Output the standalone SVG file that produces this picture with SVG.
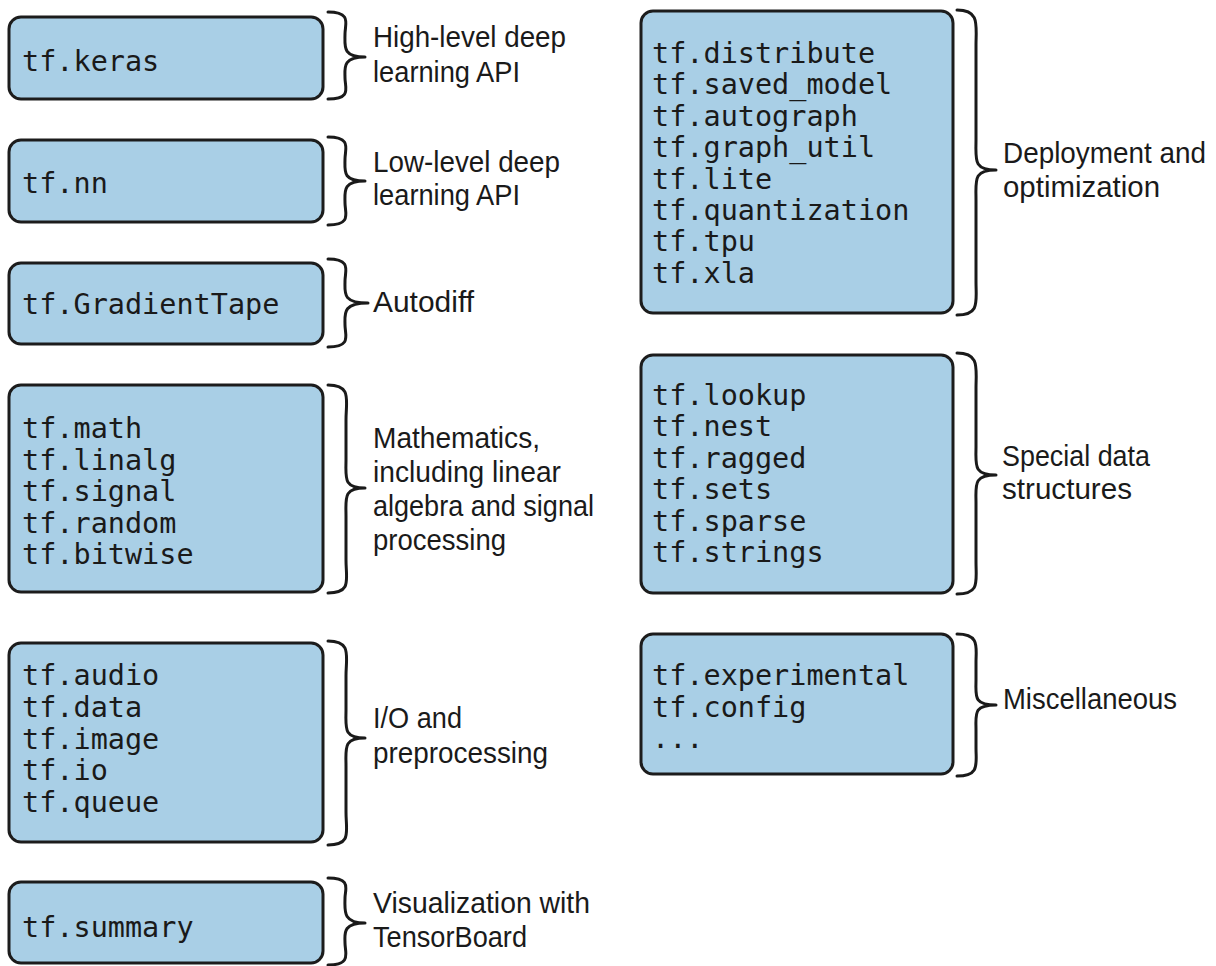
<svg xmlns="http://www.w3.org/2000/svg" width="1216" height="966" viewBox="0 0 1216 966">
<style>
.box{fill:#a9cfe6;stroke:#1c1c1c;stroke-width:3}
.code{font-family:"DejaVu Sans Mono","Liberation Mono",monospace;font-size:28.5px;fill:#1a1a1a}
.lbl{font-family:"Liberation Sans",Arial,sans-serif;font-size:29px;fill:#1a1a1a}
.brace{fill:none;stroke:#1a1a1a;stroke-width:3;stroke-linecap:round;stroke-linejoin:round}
</style>
<rect width="1216" height="966" fill="#ffffff"/>
<g id="keras">
<rect class="box" x="9" y="17" width="314" height="82" rx="12"/>
<text class="code" x="22" y="71">tf.keras</text>
<text class="lbl" x="373" y="47" textLength="193" lengthAdjust="spacingAndGlyphs">High-level deep</text>
<text class="lbl" x="373" y="82" textLength="147" lengthAdjust="spacingAndGlyphs">learning API</text>
</g>
<g id="nn">
<rect class="box" x="9" y="140" width="314" height="82" rx="12"/>
<text class="code" x="22" y="193">tf.nn</text>
<text class="lbl" x="373" y="172" textLength="187" lengthAdjust="spacingAndGlyphs">Low-level deep</text>
<text class="lbl" x="373" y="205" textLength="147" lengthAdjust="spacingAndGlyphs">learning API</text>
</g>
<g id="gradienttape">
<rect class="box" x="9" y="263" width="314" height="81" rx="12"/>
<text class="code" x="22" y="314">tf.GradientTape</text>
<text class="lbl" x="373" y="312" textLength="101" lengthAdjust="spacingAndGlyphs">Autodiff</text>
</g>
<g id="math">
<rect class="box" x="9" y="385" width="314" height="207" rx="12"/>
<text class="code" x="22" y="438">tf.math</text>
<text class="code" x="22" y="469.5">tf.linalg</text>
<text class="code" x="22" y="501">tf.signal</text>
<text class="code" x="22" y="532.5">tf.random</text>
<text class="code" x="22" y="564">tf.bitwise</text>
<text class="lbl" x="373" y="448" textLength="167" lengthAdjust="spacingAndGlyphs">Mathematics,</text>
<text class="lbl" x="373" y="482" textLength="188" lengthAdjust="spacingAndGlyphs">including linear</text>
<text class="lbl" x="373" y="516" textLength="221" lengthAdjust="spacingAndGlyphs">algebra and signal</text>
<text class="lbl" x="373" y="550" textLength="133" lengthAdjust="spacingAndGlyphs">processing</text>
</g>
<g id="io">
<rect class="box" x="9" y="643" width="314" height="199" rx="12"/>
<text class="code" x="22" y="685">tf.audio</text>
<text class="code" x="22" y="716.75">tf.data</text>
<text class="code" x="22" y="748.5">tf.image</text>
<text class="code" x="22" y="780.25">tf.io</text>
<text class="code" x="22" y="812">tf.queue</text>
<text class="lbl" x="373" y="728" textLength="89" lengthAdjust="spacingAndGlyphs">I/O and</text>
<text class="lbl" x="373" y="763" textLength="175" lengthAdjust="spacingAndGlyphs">preprocessing</text>
</g>
<g id="summary">
<rect class="box" x="9" y="882" width="314" height="81" rx="12"/>
<text class="code" x="22" y="937">tf.summary</text>
<text class="lbl" x="373" y="913" textLength="217" lengthAdjust="spacingAndGlyphs">Visualization with</text>
<text class="lbl" x="373" y="947" textLength="154" lengthAdjust="spacingAndGlyphs">TensorBoard</text>
</g>
<g id="deployment">
<rect class="box" x="641" y="11" width="312" height="302" rx="12"/>
<text class="code" x="652" y="63">tf.distribute</text>
<text class="code" x="652" y="94.4">tf.saved_model</text>
<text class="code" x="652" y="125.8">tf.autograph</text>
<text class="code" x="652" y="157.2">tf.graph_util</text>
<text class="code" x="652" y="188.6">tf.lite</text>
<text class="code" x="652" y="220">tf.quantization</text>
<text class="code" x="652" y="251.4">tf.tpu</text>
<text class="code" x="652" y="283">tf.xla</text>
<text class="lbl" x="1003" y="163" textLength="203" lengthAdjust="spacingAndGlyphs">Deployment and</text>
<text class="lbl" x="1003" y="197" textLength="157" lengthAdjust="spacingAndGlyphs">optimization</text>
</g>
<g id="special">
<rect class="box" x="641" y="355" width="312" height="238" rx="12"/>
<text class="code" x="652" y="405">tf.lookup</text>
<text class="code" x="652" y="436.4">tf.nest</text>
<text class="code" x="652" y="467.8">tf.ragged</text>
<text class="code" x="652" y="499.2">tf.sets</text>
<text class="code" x="652" y="530.6">tf.sparse</text>
<text class="code" x="652" y="562">tf.strings</text>
<text class="lbl" x="1002" y="466" textLength="148" lengthAdjust="spacingAndGlyphs">Special data</text>
<text class="lbl" x="1002" y="499" textLength="130" lengthAdjust="spacingAndGlyphs">structures</text>
</g>
<g id="misc">
<rect class="box" x="641" y="634" width="312" height="140" rx="12"/>
<text class="code" x="652" y="685">tf.experimental</text>
<text class="code" x="652" y="717">tf.config</text>
<text class="code" x="652" y="748">...</text>
<text class="lbl" x="1003" y="709" textLength="174" lengthAdjust="spacingAndGlyphs">Miscellaneous</text>
</g>
<g id="connectors">
<path class="brace" d="M328 12 C352 12 345 24 345 34 C345 46 342 57 365 57 C342 57 345 68 345 78 C345 88 352 99 328 99"/>
<path class="brace" d="M328 137 C352 137 345 149 345 159 C345 171 342 181 365 181 C342 181 345 192 345 203 C345 213 352 225 328 225"/>
<path class="brace" d="M328 259 C352 259 345 271 345 281 C345 293 342 303 368 303 C342 303 345 314 345 325 C345 335 352 347 328 347"/>
<path class="brace" d="M328 385 C352 385 346 400 346 420 L346 460 C346 478 343 488 365 488 C343 488 346 498 346 516 L346 560 C346 580 352 593 328 593"/>
<path class="brace" d="M328 641 C352 641 346 656 346 676 L346 710 C346 728 343 738 365 738 C343 738 346 748 346 766 L346 812 C346 832 352 845 328 845"/>
<path class="brace" d="M328 878 C352 878 345 889 345 898 C345 910 342 923 365 923 C342 923 345 934 345 943 C345 953 352 965 328 965"/>
<path class="brace" d="M957 10 C980 10 976 25 976 45 L976 140 C976 160 973 170 996 170 C973 170 976 180 976 200 L976 282 C976 302 980 315 957 315"/>
<path class="brace" d="M957 353 C980 353 976 368 976 388 L976 447 C976 465 973 475 996 475 C973 475 976 485 976 503 L976 562 C976 582 980 594 957 594"/>
<path class="brace" d="M957 634 C980 634 976 647 976 662 L976 680 C976 696 973 705 996 705 C973 705 976 714 976 730 L976 748 C976 764 980 776 957 776"/>
</g>
</svg>
